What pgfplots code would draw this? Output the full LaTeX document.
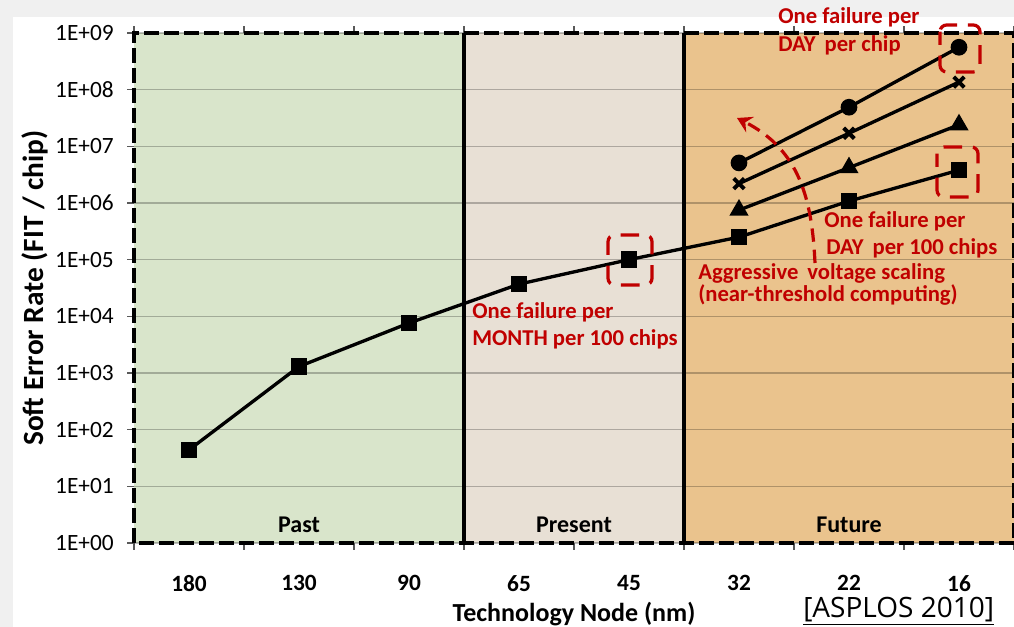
\documentclass[border=0pt]{standalone}
\usepackage{fontspec}
\setmainfont{Carlito}
\newfontfamily\osans{Open Sans}
\usepackage{pgfplots}
\pgfplotsset{compat=1.18}
\usetikzlibrary{arrows.meta}
\definecolor{pastcol}{RGB}{217,229,203}
\definecolor{prescol}{RGB}{232,224,213}
\definecolor{futcol}{RGB}{234,195,141}
\definecolor{annred}{RGB}{192,0,0}
\definecolor{pagegray}{RGB}{240,240,240}
\begin{document}
\begin{tikzpicture}
\tikzset{px/.style={x=0.75pt,y=-0.75pt,shift={(-134,-543)}}}
\begin{scope}[px]
\fill[pagegray] (0,0) rectangle (1014,627);
\fill[white] (13,17) rectangle (1014,627);
% background regions (axis occupies px 134..1014 x 33..543)
\fill[pastcol] (134,33) rectangle (464,543);
\fill[prescol] (464,33) rectangle (684,543);
\fill[futcol] (684,33) rectangle (1014,543);
\end{scope}
\begin{axis}[
  scale only axis, width=660pt, height=382.5pt,
  xmin=-0.5, xmax=7.5, ymode=log, ymin=1, ymax=1e9,
  axis line style={draw=none},
  xtick={0,1,2,3,4,5,6,7},
  xticklabels={180,130,90,65,45,32,22,16},
  minor xtick={-0.5,0.5,1.5,2.5,3.5,4.5,5.5,6.5,7.5},
  ytick={1,10,100,1000,1e4,1e5,1e6,1e7,1e8,1e9},
  yticklabels={1E+00,1E+01,1E+02,1E+03,1E+04,1E+05,1E+06,1E+07,1E+08,1E+09},
  yminorticks=false,
  tick align=outside,
  major tick length=5pt, minor tick length=5pt,
  every tick/.style={gray!70!black, line width=0.8pt},
  major x tick style={draw=none},
  ymajorgrids, xmajorgrids=false,
  major grid style={black, opacity=0.25, line width=1pt},
  xticklabel style={font=\bfseries\fontsize{17.5}{20}\selectfont, inner sep=0pt, anchor=north, yshift=-19pt},
  yticklabel style={font=\fontsize{17.5}{20}\selectfont, inner sep=0pt, anchor=east, xshift=-10pt},
  xlabel={Technology Node (nm)},
  ylabel={Soft Error Rate (FIT / chip)},
  every axis x label/.style={at={(axis description cs:0.5,0)}, anchor=north, inner sep=0pt, yshift=-44pt, font=\bfseries\fontsize{19.5}{23}\selectfont},
  every axis y label/.style={at={(axis description cs:0,0.5)}, rotate=90, anchor=center, yshift=74pt, font=\bfseries\fontsize{22}{26}\selectfont},
  clip=false,
]
\node[font=\bfseries\fontsize{18}{22}\selectfont, anchor=base] at (axis cs:1,1.55) {Past};
\node[font=\bfseries\fontsize{18}{22}\selectfont, anchor=base] at (axis cs:3.5,1.55) {Present};
\node[font=\bfseries\fontsize{18}{22}\selectfont, anchor=base] at (axis cs:6,1.55) {Future};
\addplot[black, line width=2.5pt, mark=square*, mark size=5pt, mark options={solid}] coordinates {
 (0,44) (1,1300) (2,7600) (3,3.7e4) (4,1.0e5) (5,2.5e5) (6,1.08e6) (7,3.8e6)};
\addplot[black, line width=2.5pt, mark=triangle*, mark size=5.8pt] coordinates {
 (5,7.5e5) (6,4.2e6) (7,2.4e7)};
\addplot[black, line width=2.5pt, mark=x, mark size=5.6pt, mark options={line width=3pt}] coordinates {
 (5,2.2e6) (6,1.7e7) (7,1.36e8)};
\addplot[black, line width=2.5pt, mark=*, mark size=5pt] coordinates {
 (5,5.1e6) (6,4.9e7) (7,5.6e8)};
\end{axis}
\begin{scope}[px]
\draw[black, line width=2.4pt] (464,33) -- (464,543);
\draw[black, line width=2.4pt] (684,33) -- (684,543);
\draw[black, line width=3pt, dash pattern=on 11pt off 4pt] (134,543) rectangle (1014,33);
\tikzset{redbox/.style={draw=annred, line width=2.4pt, rounded corners=5pt, dash pattern=on 14pt off 8pt, dash phase=4pt}}
\draw[redbox] (608,235) rectangle (652,285);
\draw[redbox] (937,147) rectangle (978,197);
\draw[redbox] (940,25) rectangle (980,72);
\draw[annred, line width=2.4pt, dash pattern=on 10pt off 6pt, -{Stealth[length=11pt,width=13pt,inset=4pt]}]
  (815,263) .. controls (812,200) and (800,150) .. (737,118);
\tikzset{redtxt/.style={text=annred, font=\bfseries\fontsize{17}{20}\selectfont, anchor=base west, inner sep=0pt}}
\node[redtxt] at (778,24) {One failure per};
\node[redtxt] at (778,52) {DAY\, per chip};
\node[redtxt] at (824,228) {One failure per};
\node[redtxt] at (826,255) {DAY\, per 100 chips};
\node[redtxt] at (698,280) {Aggressive\, voltage scaling};
\node[redtxt] at (698,302) {(near-threshold computing)};
\node[redtxt] at (472,319) {One failure per};
\node[redtxt] at (472,346) {MONTH per 100 chips};
\node[anchor=base west, inner sep=0pt, font=\osans\fontsize{21}{24}\selectfont] at (803,618) {\underline{[ASPLOS 2010]}};
\pgfresetboundingbox
\path[use as bounding box] (0,0) rectangle (1014,627);
\end{scope}
\end{tikzpicture}
\end{document}
